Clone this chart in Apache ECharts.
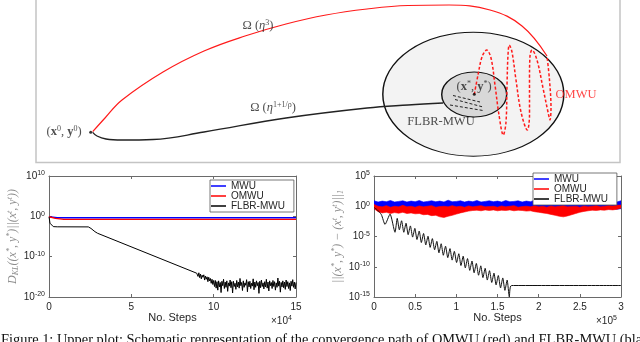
<!DOCTYPE html>
<html>
<head>
<meta charset="utf-8">
<script src="https://cdn.jsdelivr.net/npm/echarts@6/dist/echarts.min.js"></script>
<style>html,body{margin:0;padding:0;background:#fff}#main{width:640px;height:342px}</style>
</head>
<body>
<div id="main"></div>
<script>
// ---- lower left: KL divergence, steps in units of 1e4, values as log10
var mwuLeftSteps = [0, 0.5, 15];
var mwuLeftLog = [-0.1, -0.35, -0.35];
var omwuLeftSteps = [0, 0.4, 0.9, 15];
var omwuLeftLog = [-0.1, -0.5, -0.75, -0.75];
var flbrLeftSteps = [0, 0.06, 0.26, 0.5, 2.39, 2.55, 2.79, 2.95, 8.97];
var flbrLeftLog = [-0.1, -1.7, -2.55, -2.6, -2.62, -3.0, -3.8, -4.2, -14.1];
var noiseStart = 9.0, noiseStep = 0.05;
var flbrNoiseLog = [
  -14.2,-14.9,-14.0,-15.2,-14.3,-15.5,-14.6,-15.1,-14.5,-15.8,-14.8,-15.6,-15.0,-16.2,-15.1,-16.0,-15.4,-16.6,-15.6,-16.9,-15.9,
  -17.4,-15.9,-17.8,-16.2,-18.3,-16.0,-17.5,-16.4,-18.9,-16.1,
  -17.2,-15.6,-17.9,-16.3,-17.6,-16.0,-18.6,-16.5,-17.3,-15.8,
  -17.7,-16.2,-19.0,-16.1,-17.4,-16.6,-18.1,-15.9,-17.5,-16.3,
  -17.8,-15.4,-17.2,-16.4,-18.4,-16.0,-17.6,-16.5,-17.1,-15.7,
  -18.7,-16.2,-17.5,-16.1,-17.9,-16.6,-17.3,-15.5,-18.2,-16.3,
  -17.6,-16.0,-17.2,-16.4,-19.1,-16.1,-17.7,-15.8,-17.4,-16.5,
  -18.0,-16.2,-17.5,-15.6,-17.8,-16.3,-18.5,-16.0,-17.2,-16.4,
  -17.9,-15.9,-17.4,-16.2,-18.3,-16.5,-17.6,-15.3,-17.3,-16.1,
  -18.8,-16.4,-17.5,-16.0,-17.7,-16.3,-18.1,-15.8,-17.4,-16.2,
  -17.9,-16.5,-18.4,-16.1,-17.3,-15.7,-17.6,-16.3,-18.0,-16.4
];

// ---- lower right: L1 distance, steps in units of 1e5, values as log10
var bandSteps = [0,0.05,0.1,0.15,0.2,0.25,0.3,0.35,0.4,0.45,0.5,0.55,0.6,0.65,0.7,0.75,0.8,0.85,0.9,0.95,
  1,1.05,1.1,1.15,1.2,1.25,1.3,1.35,1.4,1.45,1.5,1.55,1.6,1.65,1.7,1.75,1.8,1.85,1.9,1.95,
  2,2.05,2.1,2.15,2.2,2.25,2.3,2.35,2.4,2.45,2.5,2.55,2.6,2.65,2.7,2.75,2.8,2.85,2.9,2.95,3];
var mwuHi = [0.9,0.7,0.85,0.75,0.95,0.7,0.8,0.9,0.7,0.85,0.75,0.95,0.7,0.8,0.9,0.75,0.85,0.7,1.0,0.75,
  0.8,0.9,0.7,0.85,0.75,0.95,0.7,0.8,0.9,0.75,0.85,0.7,0.95,0.75,0.8,0.9,0.7,0.85,0.75,1.0,
  0.7,0.8,0.9,0.75,0.85,0.7,0.95,0.75,0.8,0.9,0.7,0.85,0.75,0.95,0.7,0.8,0.9,0.75,0.85,0.7,0.9];
var mwuLo = [-0.5,-0.35,-0.45,-0.4,-0.55,-0.35,-0.4,-0.5,-0.35,-0.45,-0.4,-0.5,-0.35,-0.45,-0.4,-0.55,-0.35,-0.4,-0.5,-0.35,
  -0.45,-0.4,-0.5,-0.35,-0.45,-0.4,-0.55,-0.35,-0.4,-0.5,-0.35,-0.45,-0.4,-0.5,-0.35,-0.45,-0.4,-0.55,-0.35,-0.4,
  -0.5,-0.35,-0.45,-0.4,-0.5,-0.35,-0.45,-0.4,-0.55,-0.35,-0.4,-0.5,-0.35,-0.45,-0.4,-0.5,-0.35,-0.45,-0.4,-0.5,-0.4];
var omwuHi = [0.3,0.0,-0.1,0.1,-0.15,0.0,-0.1,0.15,-0.1,0.0,-0.15,0.05,-0.1,0.0,0.1,-0.15,-0.05,0.0,-0.1,0.1,
  -0.1,0.0,-0.15,0.05,-0.1,0.0,0.1,-0.1,-0.05,0.0,-0.15,0.05,-0.1,0.0,0.1,-0.15,-0.05,0.0,-0.1,0.1,
  -0.1,0.0,-0.15,0.05,-0.1,0.0,0.1,-0.1,-0.05,0.0,-0.15,0.05,-0.1,0.0,0.1,-0.1,0.0,0.1,0.05,0.15,0.2];
var omwuLo = [-0.4,-0.9,-1.1,-1.0,-1.2,-1.05,-1.15,-1.0,-1.2,-1.1,-1.25,-1.2,-1.4,-1.35,-1.55,-1.5,-1.75,-1.85,-1.65,-1.5,
  -1.3,-1.1,-0.95,-0.8,-0.7,-0.65,-0.75,-0.6,-0.7,-0.6,-0.75,-0.65,-0.7,-0.6,-0.75,-0.65,-0.7,-0.8,-0.75,-0.9,
  -1.0,-1.1,-1.2,-1.35,-1.5,-1.65,-1.75,-1.6,-1.4,-1.2,-1.0,-0.85,-0.75,-0.65,-0.7,-0.6,-0.65,-0.55,-0.6,-0.5,-0.3];
var flbrHead = [[0, -0.2], [0.04, -0.6], [0.09, -1.4]];
var cuspSteps = [0.134,0.255,0.308,0.362,0.415,0.469,0.522,0.575,0.629,0.682,0.736,0.789,0.842,0.896,0.949,
  1.003,1.056,1.109,1.163,1.216,1.270,1.323,1.376,1.430,1.483,1.537,1.590,1.644];
var cuspLog = [-3.0,-4.3,-3.9,-4.3,-4.7,-5.1,-5.5,-6.0,-6.4,-6.8,-7.2,-7.7,-8.1,-8.5,-8.9,
  -9.3,-9.8,-10.2,-10.6,-11.0,-11.4,-11.8,-12.2,-12.6,-13.0,-13.5,-13.9,-15.0];
var peakSteps = [0.195,0.282,0.335,0.389,0.442,0.496,0.549,0.602,0.656,0.709,0.763,0.816,0.869,0.923,
  0.976,1.030,1.083,1.136,1.190,1.243,1.297,1.350,1.403,1.457,1.510,1.564,1.617];
var peakLog = [-1.3,-2.0,-2.4,-2.8,-3.25,-3.65,-4.1,-4.5,-4.95,-5.35,-5.8,-6.2,-6.6,-7.0,
  -7.45,-7.85,-8.25,-8.65,-9.05,-9.45,-9.85,-10.25,-10.65,-11.05,-11.45,-11.85,-12.2];
var flbrTail = [[1.67, -13.1], [3.0, -13.1]];

// ---- upper schematic (drawing units)
var redPath = [[92.7,131.7],[105,118],[122,100],[163,72],[204,51],[245,36],[286,24],[326,15],[367,9],[408,5.5],[449,5],[490,10],[522,26],[547,56]];
var blackPath = [[92.7,132.3],[97,136],[106,139],[122,140],[153,139.5],[204,132],[286,118],[367,108],[408,105],[443,103]];
var redLoops = [[474.3,94.3],[478,75],[482,57],[486.7,50],[491,58],[495,85],[499,115],[503.3,135],[506,122],[507,85],[508,55],[509.3,45],
  [512,52],[516,80],[521,112],[527.3,130],[529.5,115],[529.5,80],[530,56],[532,50],[537,60],[543,88],[548,112],[550,120],[551,108],[549.5,80],[547,56]];
var blackDashes = [[[453,95.5],[480,102]], [[455,99.5],[483,107]], [[450,105],[483,110.5]]];
var regionCenter = [[473.3,94.2],[474.2,94.5]];
var regionRadius = [[90.5,62],[32.5,22.5]];
var pointMarks = [[90.7,132.3],[474.3,94.3]];
var labelAt = [[258,26],[273,108],[64,131.5],[474,86.5],[576,94.3],[441,121.7]];
var labelText = [
  '{n|Ω (}{i|η}{s|3}{n|)}',
  '{n|Ω (}{i|η}{s|1+1/ρ}{n|)}',
  '{n|(}{b|x}{s|0}{n|, }{b|y}{s|0}{n|)}',
  '{n|(}{b|x}{s|*}{n|, }{b|y}{s|*}{n|)}',
  '{r|OMWU}',
  '{n|FLBR-MWU}'
];

var pairs = function (xs, ys) { return xs.map(function (x, i) { return [x, ys[i]]; }); };
var flbrLeft = pairs(flbrLeftSteps, flbrLeftLog).concat(flbrNoiseLog.map(function (v, i) { return [noiseStart + i * noiseStep, v]; }));
var flbrRight = flbrHead.slice();
cuspSteps.forEach(function (x, i) {
  flbrRight.push([x, cuspLog[i]]);
  if (i < peakSteps.length) flbrRight.push([peakSteps[i], peakLog[i]]);
});
flbrRight = flbrRight.concat(flbrTail);

var AX = '#6a6a6a', TX = '#262626', SANS = 'Liberation Sans', SERIF = 'Liberation Serif';
var powLabel = {
  color: TX, fontFamily: SANS, margin: 4,
  formatter: function (v) { return '{b|10}{s|' + v + '}'; },
  rich: { b: { fontSize: 10, lineHeight: 12, fontFamily: SANS, color: TX },
          s: { fontSize: 7, lineHeight: 6, verticalAlign: 'top', fontFamily: SANS, color: TX } }
};
function frameAxis(grid, pos, min, max, step) {
  return { gridIndex: grid, type: 'value', position: pos, min: min, max: max, interval: step,
    axisLine: { show: true, onZero: false, lineStyle: { color: AX, width: 1 } },
    axisTick: { show: true, inside: true, length: 3, lineStyle: { color: AX } },
    axisLabel: { show: false }, splitLine: { show: false } };
}
function bottomAxis(grid, min, max, step) {
  var a = frameAxis(grid, 'bottom', min, max, step);
  a.axisLabel = { show: true, color: TX, fontSize: 10, fontFamily: SANS, margin: 5 };
  a.name = 'No. Steps'; a.nameLocation = 'middle'; a.nameGap = 14;
  a.nameTextStyle = { color: TX, fontSize: 11, fontFamily: SANS };
  return a;
}
function leftAxis(grid, min, max, step, name, gap) {
  var a = frameAxis(grid, 'left', min, max, step);
  a.axisLabel = powLabel;
  a.name = name; a.nameLocation = 'middle'; a.nameGap = gap;
  var g = '#8c8c8c';
  a.nameTextStyle = { color: g, fontFamily: SERIF, rich: {
    i: { fontSize: 12, fontStyle: 'italic', fontFamily: SERIF, color: g, lineHeight: 14 },
    sup: { fontSize: 8, fontStyle: 'italic', fontFamily: SERIF, color: g, lineHeight: 7, verticalAlign: 'top' },
    sub: { fontSize: 8, fontStyle: 'italic', fontFamily: SERIF, color: g, lineHeight: 7, verticalAlign: 'bottom' } } };
  return a;
}
// noisy band drawn as one polygon: upper edge forward, lower edge back, clipped to the plot box
function band(name, lo, hi, color) {
  return { name: name, type: 'custom', xAxisIndex: 2, yAxisIndex: 2, silent: true, color: color,
    itemStyle: { color: color }, data: [[0, 0]],
    renderItem: function (params, api) {
      var pts = [], i, cs = params.coordSys;
      for (i = 0; i < bandSteps.length; i++) pts.push(api.coord([bandSteps[i], hi[i]]));
      for (i = bandSteps.length - 1; i >= 0; i--) pts.push(api.coord([bandSteps[i], lo[i]]));
      return { type: 'group', children: [{ type: 'polygon', shape: { points: pts },
        style: { fill: color, stroke: color, lineWidth: 0.6 } }],
        clipPath: { type: 'rect', shape: { x: cs.x, y: cs.y, width: cs.width, height: cs.height } } };
    } };
}
function legendAt(left, top) {
  return { left: left, top: top, orient: 'vertical', data: ['MWU', 'OMWU', 'FLBR-MWU'], icon: 'rect',
    itemWidth: 15, itemHeight: 1.5, itemGap: 0, padding: [1, 9, 1, 1], borderColor: '#555', borderWidth: 0.8,
    backgroundColor: '#fff', textStyle: { fontSize: 10, lineHeight: 9.6, fontFamily: SANS, color: TX } };
}

var chart = echarts.init(document.getElementById('main'));
var serifRich = {
  n: { fontSize: 12.5, lineHeight: 14, fontFamily: SERIF, color: '#222' },
  i: { fontSize: 12.5, lineHeight: 14, fontFamily: SERIF, fontStyle: 'italic', color: '#222' },
  b: { fontSize: 12.5, lineHeight: 14, fontFamily: SERIF, fontWeight: 'bold', color: '#222' },
  s: { fontSize: 8, lineHeight: 8, fontFamily: SERIF, verticalAlign: 'top', color: '#222' },
  r: { fontSize: 12.5, lineHeight: 14, fontFamily: SERIF, color: '#ff1a1a' }
};

chart.setOption({
  animation: false,
  backgroundColor: '#fff',
  grid: [
    { left: 49, top: 176, width: 247, height: 121 },
    { left: 374, top: 176, width: 247, height: 121 },
    { left: 0, top: 0, width: 640, height: 342 }
  ],
  xAxis: [
    bottomAxis(0, 0, 15, 5), frameAxis(0, 'top', 0, 15, 5),
    bottomAxis(1, 0, 3, 0.5), frameAxis(1, 'top', 0, 3, 0.5),
    { gridIndex: 2, type: 'value', min: 0, max: 640, show: false }
  ],
  yAxis: [
    leftAxis(0, -20, 10, 10, '{i|D}{sub|KL}{i|((x}{sup|*}{i|, y}{sup|*}{i|)||(x}{sup|t}{i|, y}{sup|t}{i|))}', 21),
    frameAxis(0, 'right', -20, 10, 10),
    leftAxis(1, -15, 5, 5, '{i|||(x}{sup|*}{i|, y}{sup|*}{i|) − (x}{sup|t}{i|, y}{sup|t}{i|)||}{sub|1}', 27),
    frameAxis(1, 'right', -15, 5, 5),
    { gridIndex: 2, type: 'value', min: 0, max: 342, inverse: true, show: false }
  ],
  legend: [legendAt(210, 180), legendAt(533, 173)],
  graphic: [
    { type: 'rect', shape: { x: 36, y: -1, width: 584, height: 163.5 }, style: { fill: 'none', stroke: '#c4c4c4', lineWidth: 1.5 } },
    { type: 'text', x: 271, y: 315, style: { text: '{a|×10}{s|4}', rich: {
      a: { fontSize: 10, lineHeight: 13, fontFamily: SANS, fill: TX }, s: { fontSize: 7, lineHeight: 7, verticalAlign: 'top', fontFamily: SANS, fill: TX } } } },
    { type: 'text', x: 596, y: 315, style: { text: '{a|×10}{s|5}', rich: {
      a: { fontSize: 10, lineHeight: 13, fontFamily: SANS, fill: TX }, s: { fontSize: 7, lineHeight: 7, verticalAlign: 'top', fontFamily: SANS, fill: TX } } } },
    { type: 'text', x: 1, y: 333, style: { text: 'Figure 1: Upper plot: Schematic representation of the convergence path of OMWU (red) and FLBR-MWU (black)',
      font: '14.4px "Liberation Serif"', fill: '#111' } }
  ],
  series: [
    // upper schematic
    { type: 'scatter', xAxisIndex: 4, yAxisIndex: 4, silent: true, symbol: 'circle', z: 1,
      data: regionCenter.map(function (c, i) {
        return { value: c, symbolSize: [regionRadius[i][0] * 2, regionRadius[i][1] * 2],
          itemStyle: { color: i === 0 ? '#f3f3f3' : '#d8d8d8', borderColor: '#111', borderWidth: 1.2, opacity: 1 } };
      }) },
    { type: 'line', xAxisIndex: 4, yAxisIndex: 4, silent: true, smooth: 0.4, showSymbol: false, z: 3,
      lineStyle: { color: '#ff1a1a', width: 1.2 }, data: redPath },
    { type: 'line', xAxisIndex: 4, yAxisIndex: 4, silent: true, smooth: 0.4, showSymbol: false, z: 3,
      lineStyle: { color: '#222', width: 1.3 }, data: blackPath },
    { type: 'line', xAxisIndex: 4, yAxisIndex: 4, silent: true, smooth: 0.35, showSymbol: false, z: 4,
      lineStyle: { color: '#ff1a1a', width: 1.5, type: [3, 2] }, data: redLoops },
    { type: 'lines', coordinateSystem: 'cartesian2d', xAxisIndex: 4, yAxisIndex: 4, silent: true, z: 4,
      lineStyle: { color: '#222', width: 1, type: [3, 2], opacity: 1 },
      data: blackDashes.map(function (c) { return { coords: c }; }) },
    { type: 'scatter', xAxisIndex: 4, yAxisIndex: 4, silent: true, symbolSize: 3, z: 5,
      itemStyle: { color: '#000' }, data: pointMarks },
    { type: 'scatter', xAxisIndex: 4, yAxisIndex: 4, silent: true, symbolSize: 0, z: 6,
      data: labelAt.map(function (p, i) {
        return { value: p, label: { show: true, position: 'inside', formatter: labelText[i], rich: serifRich } };
      }) },
    // lower left
    { name: 'MWU', type: 'line', xAxisIndex: 0, yAxisIndex: 0, showSymbol: false, color: '#0000ff',
      lineStyle: { color: '#0000ff', width: 1.4 }, data: pairs(mwuLeftSteps, mwuLeftLog) },
    { name: 'OMWU', type: 'line', xAxisIndex: 0, yAxisIndex: 0, showSymbol: false, color: '#ff0000',
      lineStyle: { color: '#ff0000', width: 1.4 }, data: pairs(omwuLeftSteps, omwuLeftLog) },
    { name: 'FLBR-MWU', type: 'line', xAxisIndex: 0, yAxisIndex: 0, showSymbol: false, color: '#000',
      lineStyle: { color: '#000', width: 1 }, data: flbrLeft },
    // lower right
    band('MWU', mwuLo, mwuHi, '#0000ff'),
    band('OMWU', omwuLo, omwuHi, '#ff0000'),
    { name: 'FLBR-MWU', type: 'line', xAxisIndex: 2, yAxisIndex: 2, showSymbol: false, smooth: 0.2, color: '#000',
      lineStyle: { color: '#111', width: 1 }, data: flbrRight }
  ]
});
</script>
</body>
</html>
